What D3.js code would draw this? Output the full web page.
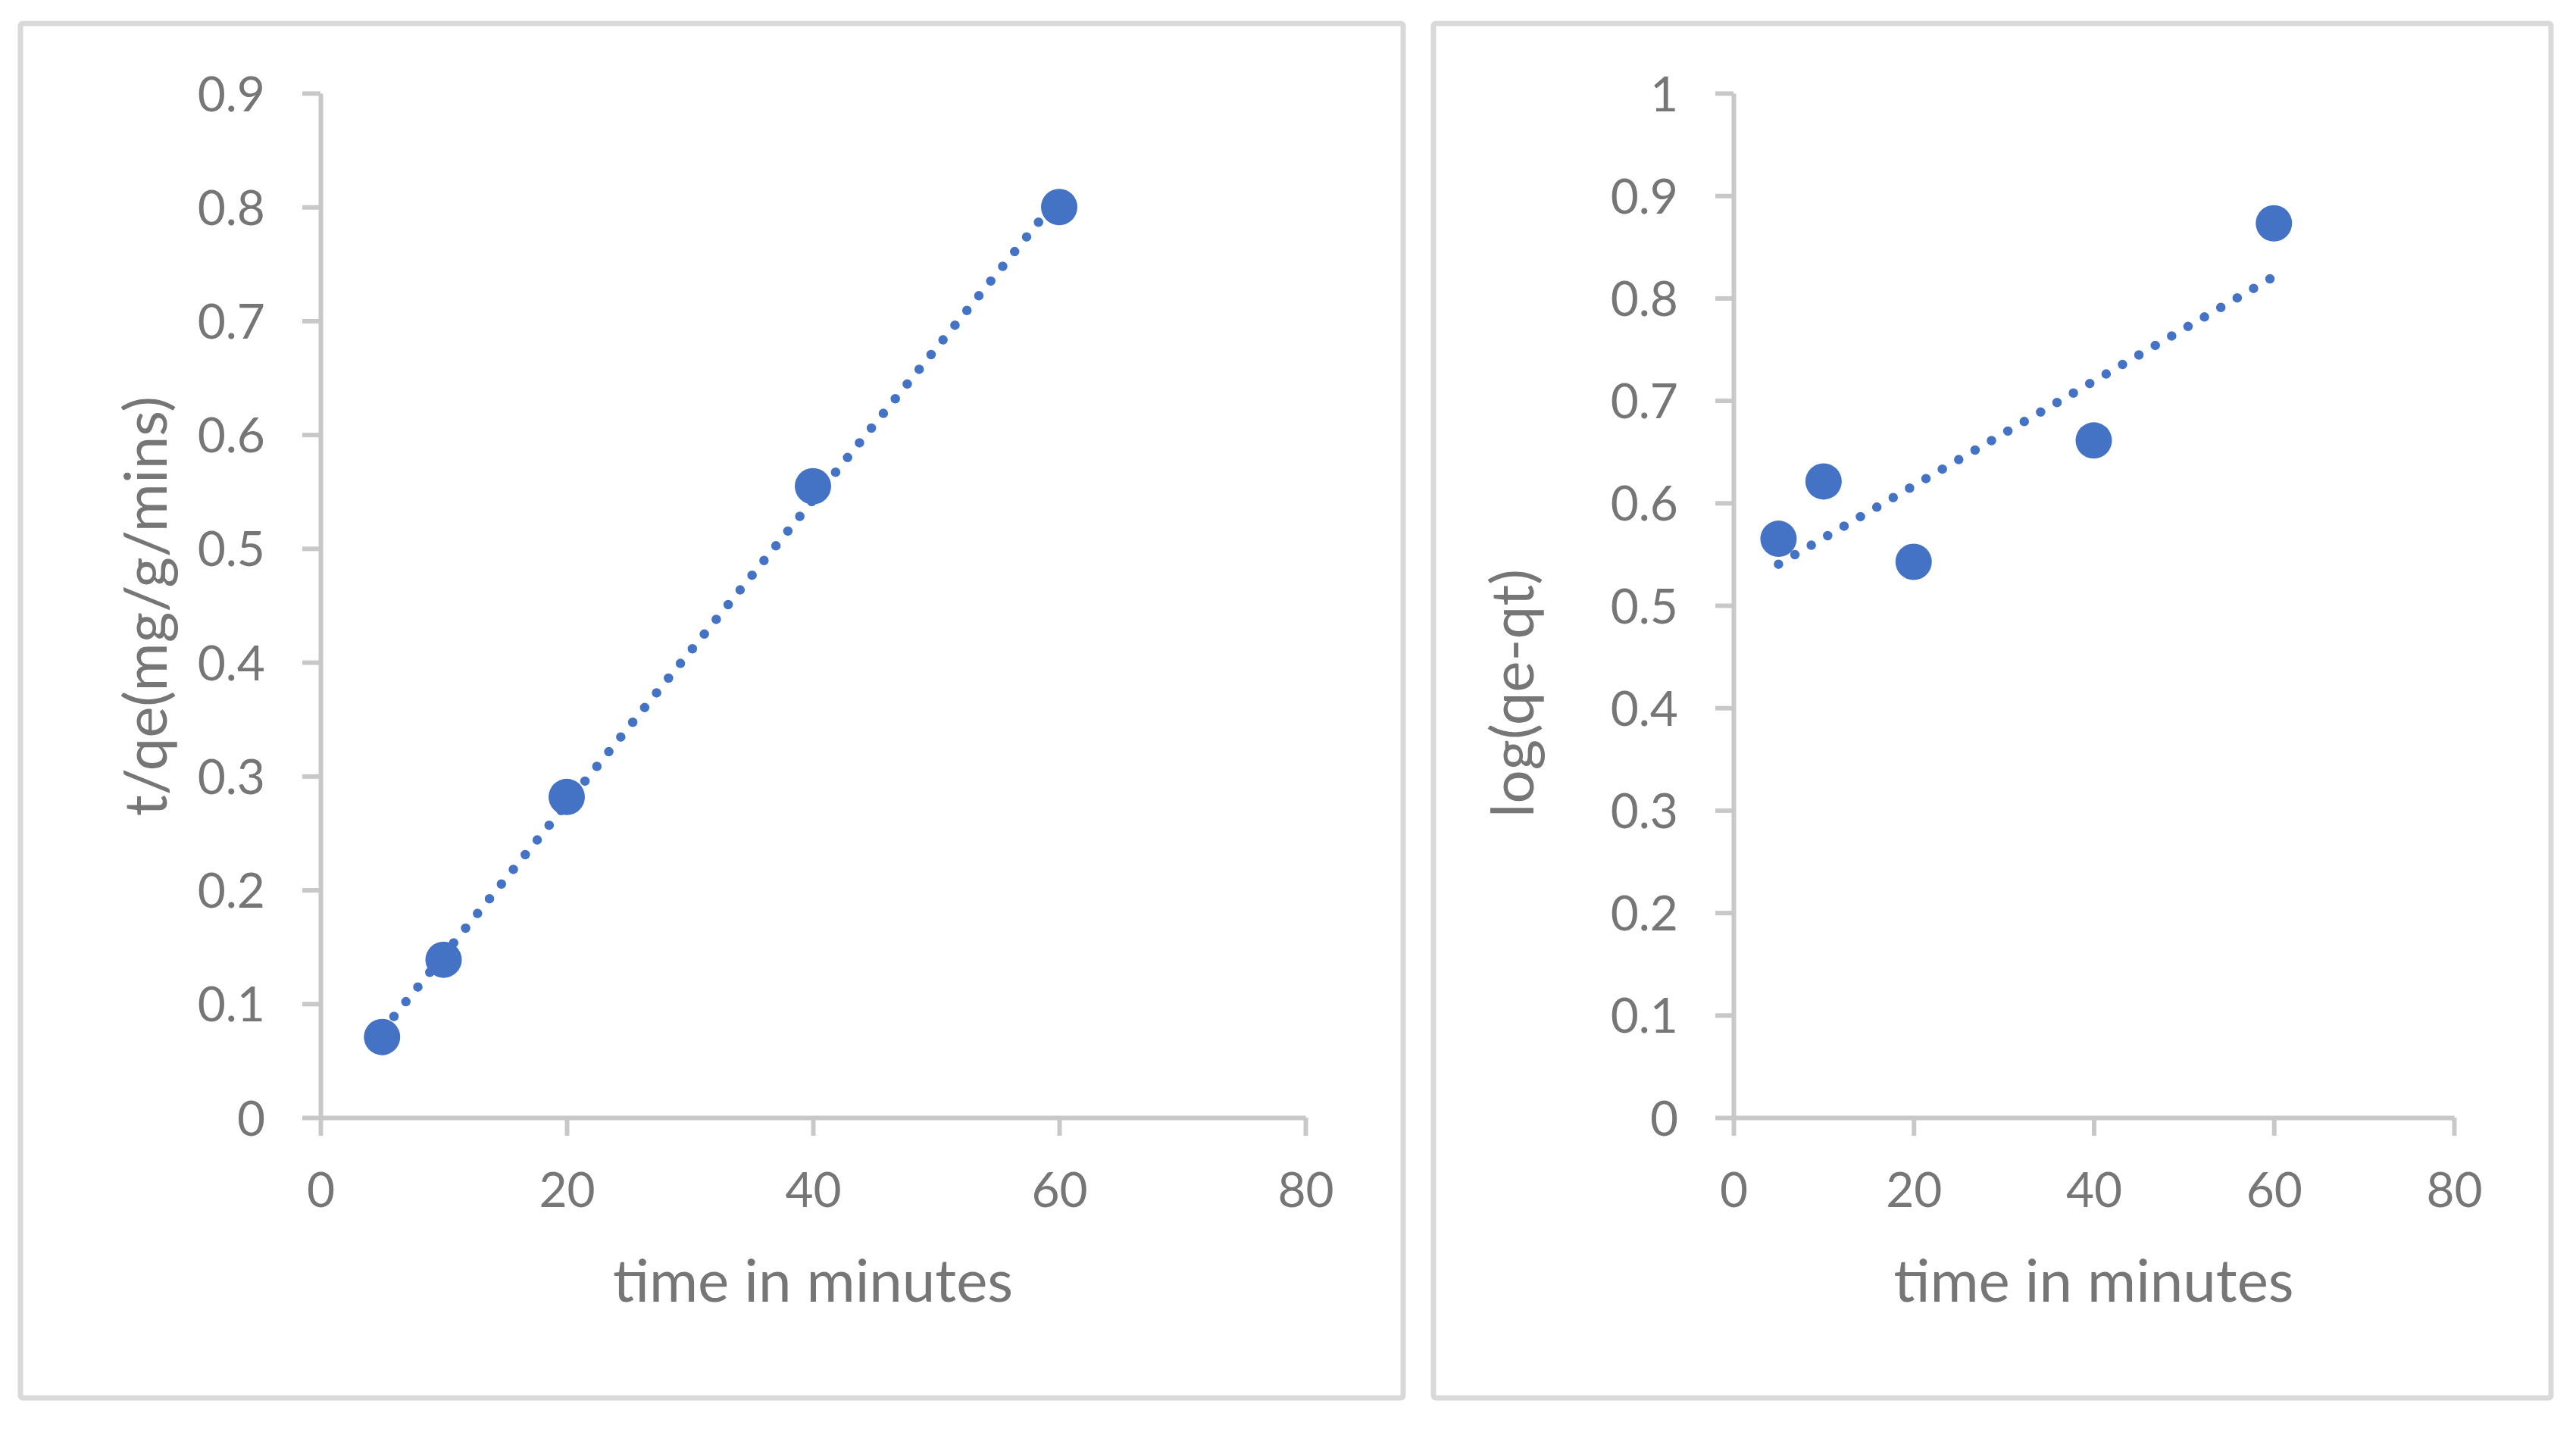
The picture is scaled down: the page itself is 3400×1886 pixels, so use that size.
<!DOCTYPE html>
<html>
<head>
<meta charset="utf-8">
<script src="https://cdn.jsdelivr.net/npm/d3@7"></script>
<style>
    body { margin: 0; background: #fff; }
    svg text { font-family: "Lato", "Carlito", sans-serif; fill: #767676; }
</style>
</head>
<body>
<svg id="chart" width="3400" height="1886"></svg>
<script>
// Data
const timeMinutes = [5, 10, 20, 40, 60];
const tOverQe = [0.0708, 0.1387, 0.2817, 0.5547, 0.800];
const logQeQt = [0.565, 0.621, 0.5425, 0.661, 0.873];

// Tick labels
const xTicks = [0, 20, 40, 60, 80];
const yTicksLeft = [0, 0.1, 0.2, 0.3, 0.4, 0.5, 0.6, 0.7, 0.8, 0.9];
const yTicksRight = [0, 0.1, 0.2, 0.3, 0.4, 0.5, 0.6, 0.7, 0.8, 0.9, 1];

const xTitle = "time in minutes";
const yTitleLeft = "t/qe(mg/g/mins)";
const yTitleRight = "log(qe-qt)";

const blue = "#4472C4";
const axisColor = "#c8c8c8";
const frameColor = "#d9d9d9";

const svg = d3.select("#chart");
svg.append("rect").attr("width", 3400).attr("height", 1886).attr("fill", "#fff");

// least squares line, like Excel's linear trendline
function linearFit(xs, ys) {
    const mx = d3.mean(xs), my = d3.mean(ys);
    let sxy = 0, sxx = 0;
    xs.forEach((x, i) => { sxy += (x - mx) * (ys[i] - my); sxx += (x - mx) * (x - mx); });
    const slope = sxy / sxx;
    return x => my + slope * (x - mx);
}

function drawPanel(opts) {
    // outer frame
    svg.append("rect")
        .attr("x", opts.frame[0]).attr("y", opts.frame[1])
        .attr("width", opts.frame[2]).attr("height", opts.frame[3])
        .attr("rx", 3)
        .attr("fill", "none")
        .attr("stroke", frameColor)
        .attr("stroke-width", 7);

    const x = d3.scaleLinear().domain([0, 80]).range([opts.left, opts.right]);
    const y = d3.scaleLinear().domain([0, opts.yMax]).range([opts.bottom, opts.top]);

    // y axis
    const gy = svg.append("g")
        .attr("transform", `translate(${opts.left},0)`)
        .call(d3.axisLeft(y).tickValues(opts.yTicks).tickFormat(d => String(d))
            .tickSizeInner(24).tickSizeOuter(0).tickPadding(49));

    // x axis
    const gx = svg.append("g")
        .attr("transform", `translate(0,${opts.bottom})`)
        .call(d3.axisBottom(x).tickValues(xTicks).tickFormat(d => String(d))
            .tickSizeInner(24).tickSizeOuter(0));

    [gx, gy].forEach(g => {
        g.select(".domain").attr("stroke", axisColor).attr("stroke-width", 6);
        g.selectAll(".tick line").attr("stroke", axisColor).attr("stroke-width", 6);
        g.selectAll("text").style("font-size", "64px").attr("fill", "#767676");
    });
    gy.selectAll(".tick text").attr("dy", "0.36em");
    gx.selectAll(".tick text").attr("y", 118).attr("dy", 0);

    // trendline (dotted)
    const fit = linearFit(timeMinutes, opts.values);
    const ends = d3.extent(timeMinutes);
    svg.append("path")
        .datum(ends)
        .attr("d", d3.line().x(d => x(d)).y(d => y(fit(d))))
        .attr("fill", "none")
        .attr("stroke", blue)
        .attr("stroke-width", 12.5)
        .attr("stroke-linecap", "round")
        .attr("stroke-dasharray", "0 25");

    // markers
    svg.append("g").selectAll("circle")
        .data(timeMinutes)
        .enter().append("circle")
        .attr("cx", d => x(d))
        .attr("cy", (d, i) => y(opts.values[i]))
        .attr("r", 24)
        .attr("fill", blue);

    // axis titles
    svg.append("text")
        .attr("x", (opts.left + opts.right) / 2)
        .attr("y", 1718)
        .attr("text-anchor", "middle")
        .style("font-size", "78px")
        .text(xTitle);

    svg.append("text")
        .attr("transform", `translate(${opts.yTitleX},${opts.yTitleY}) rotate(-90)`)
        .attr("text-anchor", "middle")
        .attr("dy", "0.32em")
        .style("font-size", "78px")
        .text(opts.yTitle);
}

drawPanel({
    frame: [27, 31, 1825, 1814],
    left: 423, right: 1723, top: 123, bottom: 1475,
    yMax: 0.9, yTicks: yTicksLeft, values: tOverQe,
    yTitle: yTitleLeft, yTitleX: 195, yTitleY: 800
});

drawPanel({
    frame: [1892, 31, 1475, 1814],
    left: 2288, right: 3239, top: 123, bottom: 1475,
    yMax: 1, yTicks: yTicksRight, values: logQeQt,
    yTitle: yTitleRight, yTitleX: 1999, yTitleY: 915
});
</script>
</body>
</html>
